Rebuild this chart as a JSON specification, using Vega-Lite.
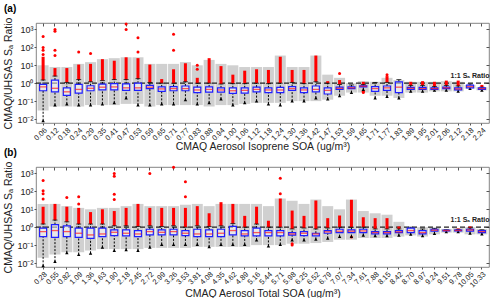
{
"$schema": "https://vega.github.io/schema/vega-lite/v6.json",
"padding": {"left": 3, "top": 3, "right": 6, "bottom": 0},
"config": {"font": "Liberation Sans", "view": {"stroke": "#666", "strokeWidth": 0.8},
  "axis": {"labelColor": "#222", "titleColor": "#222", "tickColor": "#555", "domain": false, "grid": false, "labelFontSize": 7.5, "titleFontWeight": "normal", "titleFontSize": 10.5, "tickSize": 2, "labelPadding": 1},
  "title": {"fontSize": 10, "fontWeight": "bold", "anchor": "start", "offset": 3, "color": "#000"}},
"bounds": "flush",
"spacing": 44,
"datasets": {
"A": [
{"c":"0.06","q1":0.38,"m":0.62,"q3":0.86,"wl":0.008,"wh":1.5,"rt":30,"gl":0.03,"gh":10},
{"c":"0.12","q1":0.33,"m":0.52,"q3":1.5,"wl":0.06,"wh":2.5,"rt":7,"gl":0.05,"gh":8},
{"c":"0.18","q1":0.21,"m":0.33,"q3":0.55,"wl":0.07,"wh":1.1,"rt":7,"gl":0.05,"gh":8},
{"c":"0.24","q1":0.28,"m":0.45,"q3":0.85,"wl":0.06,"wh":1.6,"rt":11,"gl":0.05,"gh":12},
{"c":"0.29","q1":0.38,"m":0.52,"q3":0.72,"wl":0.06,"wh":1.2,"rt":12,"gl":0.06,"gh":15},
{"c":"0.35","q1":0.42,"m":0.6,"q3":0.9,"wl":0.07,"wh":1.4,"rt":22,"gl":0.06,"gh":22},
{"c":"0.41","q1":0.42,"m":0.62,"q3":0.95,"wl":0.08,"wh":1.6,"rt":18,"gl":0.06,"gh":25},
{"c":"0.47","q1":0.4,"m":0.55,"q3":0.92,"wl":0.15,"wh":1.6,"rt":28,"gl":0.07,"gh":28},
{"c":"0.53","q1":0.4,"m":0.55,"q3":1.0,"wl":0.06,"wh":1.8,"rt":25,"gl":0.07,"gh":28},
{"c":"0.59","q1":0.5,"m":0.6,"q3":0.75,"wl":0.06,"wh":1.1,"rt":11,"gl":0.05,"gh":12},
{"c":"0.65","q1":0.35,"m":0.48,"q3":0.62,"wl":0.07,"wh":1.0,"rt":1.7,"gl":0.06,"gh":12},
{"c":"0.71","q1":0.38,"m":0.5,"q3":0.65,"wl":0.07,"wh":1.0,"rt":6,"gl":0.06,"gh":12},
{"c":"0.77","q1":0.38,"m":0.5,"q3":0.7,"wl":0.12,"wh":1.2,"rt":13,"gl":0.06,"gh":15},
{"c":"0.83","q1":0.3,"m":0.42,"q3":0.6,"wl":0.07,"wh":1.0,"rt":2,"gl":0.06,"gh":10},
{"c":"0.88","q1":0.32,"m":0.45,"q3":0.62,"wl":0.08,"wh":1.0,"rt":25,"gl":0.05,"gh":20},
{"c":"0.94","q1":0.32,"m":0.42,"q3":0.55,"wl":0.13,"wh":0.9,"rt":9,"gl":0.06,"gh":12},
{"c":"1.00","q1":0.27,"m":0.38,"q3":0.55,"wl":0.06,"wh":0.95,"rt":3,"gl":0.06,"gh":10},
{"c":"1.06","q1":0.28,"m":0.4,"q3":0.55,"wl":0.08,"wh":0.95,"rt":5,"gl":0.07,"gh":8},
{"c":"1.12","q1":0.33,"m":0.45,"q3":0.6,"wl":0.1,"wh":1.0,"rt":6,"gl":0.08,"gh":8},
{"c":"1.18","q1":0.3,"m":0.42,"q3":0.55,"wl":0.07,"wh":0.95,"rt":5.5,"gl":0.08,"gh":8},
{"c":"1.24","q1":0.3,"m":0.42,"q3":0.58,"wl":0.06,"wh":1.0,"rt":30,"gl":0.08,"gh":35},
{"c":"1.30","q1":0.4,"m":0.5,"q3":0.65,"wl":0.1,"wh":1.1,"rt":5.5,"gl":0.1,"gh":8},
{"c":"1.36","q1":0.3,"m":0.42,"q3":0.55,"wl":0.1,"wh":0.95,"rt":5.5,"gl":0.1,"gh":8},
{"c":"1.42","q1":0.33,"m":0.45,"q3":0.7,"wl":0.15,"wh":1.2,"rt":35,"gl":0.1,"gh":35},
{"c":"1.47","q1":0.25,"m":0.4,"q3":0.55,"wl":0.13,"wh":1.0,"rt":1.3,"gl":0.12,"gh":3},
{"c":"1.53","q1":0.45,"m":0.52,"q3":0.6,"wl":0.2,"wh":0.85,"rt":1.5,"gl":0.2,"gh":2},
{"c":"1.59","q1":0.5,"m":0.55,"q3":0.62,"wl":0.3,"wh":0.8,"rt":null,"gl":0.3,"gh":1},
{"c":"1.65","q1":0.62,"m":0.68,"q3":0.72,"wl":0.45,"wh":0.85,"rt":1.2,"gl":0.3,"gh":1.3},
{"c":"1.71","q1":0.35,"m":0.5,"q3":0.65,"wl":0.15,"wh":1.1,"rt":null,"gl":0.2,"gh":1.2},
{"c":"1.77","q1":0.4,"m":0.55,"q3":0.7,"wl":0.18,"wh":1.1,"rt":2.5,"gl":0.2,"gh":2},
{"c":"1.83","q1":0.3,"m":0.6,"q3":1.2,"wl":0.15,"wh":1.6,"rt":null,"gl":0.15,"gh":1.5},
{"c":"1.89","q1":0.45,"m":0.52,"q3":0.58,"wl":0.35,"wh":0.75,"rt":1.2,"gl":0.3,"gh":1.2},
{"c":"1.95","q1":0.45,"m":0.5,"q3":0.58,"wl":0.35,"wh":0.75,"rt":1.3,"gl":0.3,"gh":1.2},
{"c":"2.01","q1":0.45,"m":0.5,"q3":0.55,"wl":0.4,"wh":0.65,"rt":1.2,"gl":0.35,"gh":1.2},
{"c":"2.06","q1":0.5,"m":0.55,"q3":0.6,"wl":0.4,"wh":0.75,"rt":1.4,"gl":0.35,"gh":1.3},
{"c":"2.12","q1":0.42,"m":0.48,"q3":0.55,"wl":0.35,"wh":0.7,"rt":1.4,"gl":0.35,"gh":1.2},
{"c":"2.18","q1":0.55,"m":0.65,"q3":0.78,"wl":0.5,"wh":0.9,"rt":null,"gl":0.5,"gh":0.8},
{"c":"2.24","q1":0.45,"m":0.5,"q3":0.55,"wl":0.4,"wh":0.6,"rt":0.8,"gl":0.4,"gh":0.6}
],
"AO": [
{"c":"0.06","v":400},{"c":"0.06","v":100},{"c":"0.06","v":70},{"c":"0.06","v":40},
{"c":"0.12","v":1000},{"c":"0.12","v":800},{"c":"0.12","v":70},{"c":"0.12","v":35},
{"c":"0.24","v":55},{"c":"0.29","v":45},{"c":"0.47","v":2000},{"c":"0.47","v":1000},
{"c":"0.53","v":350},{"c":"0.53","v":55},{"c":"0.71","v":550},{"c":"0.71","v":70},
{"c":"0.83","v":10},{"c":"0.83","v":6},{"c":"1.53","v":3.5},{"c":"1.65","v":0.35},{"c":"1.65","v":0.3},{"c":"1.77","v":3}
],
"B": [
{"c":"0.28","q1":0.3,"m":0.57,"q3":0.88,"wl":0.007,"wh":1.5,"rt":14,"gl":0.02,"gh":20},
{"c":"0.55","q1":0.27,"m":0.65,"q3":1.4,"wl":0.012,"wh":2.5,"rt":20,"gl":0.03,"gh":20},
{"c":"0.82","q1":0.3,"m":0.57,"q3":1.19,"wl":0.038,"wh":2.0,"rt":14,"gl":0.04,"gh":15},
{"c":"1.09","q1":0.27,"m":0.46,"q3":0.88,"wl":0.03,"wh":1.5,"rt":12,"gl":0.04,"gh":12},
{"c":"1.36","q1":0.24,"m":0.37,"q3":0.88,"wl":0.035,"wh":1.5,"rt":7,"gl":0.05,"gh":10},
{"c":"1.63","q1":0.3,"m":0.42,"q3":0.88,"wl":0.075,"wh":1.5,"rt":10,"gl":0.06,"gh":12},
{"c":"1.90","q1":0.34,"m":0.52,"q3":0.71,"wl":0.05,"wh":1.2,"rt":8,"gl":0.06,"gh":12},
{"c":"2.18","q1":0.33,"m":0.46,"q3":0.71,"wl":0.055,"wh":1.2,"rt":12,"gl":0.06,"gh":15},
{"c":"2.45","q1":0.3,"m":0.42,"q3":0.65,"wl":0.05,"wh":1.1,"rt":20,"gl":0.06,"gh":20},
{"c":"2.72","q1":0.37,"m":0.57,"q3":0.77,"wl":0.075,"wh":1.2,"rt":12,"gl":0.07,"gh":15},
{"c":"2.99","q1":0.37,"m":0.52,"q3":0.71,"wl":0.11,"wh":1.1,"rt":12,"gl":0.07,"gh":15},
{"c":"3.26","q1":0.37,"m":0.57,"q3":0.77,"wl":0.11,"wh":1.2,"rt":12,"gl":0.07,"gh":15},
{"c":"3.53","q1":0.34,"m":0.46,"q3":0.65,"wl":0.11,"wh":1.0,"rt":12,"gl":0.07,"gh":18},
{"c":"3.81","q1":0.3,"m":0.42,"q3":0.77,"wl":0.11,"wh":1.2,"rt":15,"gl":0.08,"gh":20},
{"c":"4.08","q1":0.3,"m":0.42,"q3":0.71,"wl":0.08,"wh":1.1,"rt":6,"gl":0.08,"gh":15},
{"c":"4.35","q1":0.3,"m":0.46,"q3":0.77,"wl":0.11,"wh":1.2,"rt":25,"gl":0.08,"gh":20},
{"c":"4.62","q1":0.37,"m":0.65,"q3":1.1,"wl":0.11,"wh":1.6,"rt":20,"gl":0.08,"gh":20},
{"c":"4.89","q1":0.33,"m":0.42,"q3":0.65,"wl":0.11,"wh":1.0,"rt":4.3,"gl":0.08,"gh":20},
{"c":"5.16","q1":0.33,"m":0.5,"q3":0.88,"wl":0.19,"wh":1.5,"rt":14,"gl":0.1,"gh":20},
{"c":"5.44","q1":0.33,"m":0.5,"q3":0.65,"wl":0.09,"wh":1.0,"rt":2.3,"gl":0.1,"gh":15},
{"c":"5.71","q1":0.33,"m":0.5,"q3":0.65,"wl":0.11,"wh":1.0,"rt":40,"gl":0.1,"gh":40},
{"c":"5.98","q1":0.36,"m":0.42,"q3":0.5,"wl":0.19,"wh":0.8,"rt":8.5,"gl":0.12,"gh":30},
{"c":"6.25","q1":0.34,"m":0.46,"q3":0.57,"wl":0.19,"wh":0.9,"rt":4.3,"gl":0.12,"gh":20},
{"c":"6.52","q1":0.33,"m":0.42,"q3":0.46,"wl":0.21,"wh":0.8,"rt":31,"gl":0.13,"gh":35},
{"c":"6.79","q1":0.46,"m":0.55,"q3":0.65,"wl":0.24,"wh":0.9,"rt":3.2,"gl":0.15,"gh":15},
{"c":"7.07","q1":0.5,"m":0.6,"q3":0.77,"wl":0.3,"wh":1.0,"rt":4.5,"gl":0.2,"gh":10},
{"c":"7.34","q1":0.5,"m":0.6,"q3":0.71,"wl":0.3,"wh":1.0,"rt":34,"gl":0.2,"gh":35},
{"c":"7.61","q1":0.5,"m":0.62,"q3":0.77,"wl":0.35,"wh":1.0,"rt":3.6,"gl":0.25,"gh":8},
{"c":"7.88","q1":0.42,"m":0.5,"q3":0.57,"wl":0.33,"wh":0.8,"rt":3.2,"gl":0.25,"gh":6},
{"c":"8.15","q1":0.42,"m":0.5,"q3":0.57,"wl":0.33,"wh":0.8,"rt":3.2,"gl":0.25,"gh":5},
{"c":"8.42","q1":0.5,"m":0.55,"q3":0.65,"wl":0.35,"wh":0.8,"rt":1.1,"gl":0.3,"gh":2},
{"c":"8.70","q1":0.5,"m":0.65,"q3":0.88,"wl":0.4,"wh":1.0,"rt":null,"gl":0.35,"gh":1},
{"c":"8.97","q1":0.42,"m":0.5,"q3":0.65,"wl":0.33,"wh":0.8,"rt":null,"gl":0.3,"gh":1},
{"c":"9.24","q1":0.6,"m":0.68,"q3":0.77,"wl":0.45,"wh":0.85,"rt":null,"gl":0.4,"gh":1},
{"c":"9.51","q1":0.62,"m":0.65,"q3":0.68,"wl":0.55,"wh":0.72,"rt":null,"gl":0.5,"gh":0.8},
{"c":"9.78","q1":0.62,"m":0.66,"q3":0.7,"wl":0.55,"wh":0.75,"rt":0.85,"gl":0.5,"gh":0.9},
{"c":"10.05","q1":0.6,"m":0.7,"q3":0.77,"wl":0.46,"wh":0.9,"rt":1.1,"gl":0.4,"gh":1.0},
{"c":"10.33","q1":0.5,"m":0.57,"q3":0.65,"wl":0.42,"wh":0.72,"rt":null,"gl":0.4,"gh":0.8}
],
"BO": [
{"c":"0.28","v":400},{"c":"0.28","v":110},{"c":"0.28","v":75},{"c":"0.28","v":37},
{"c":"0.82","v":45},{"c":"1.09","v":50},{"c":"1.09","v":20},
{"c":"1.90","v":1000},{"c":"1.90","v":700},{"c":"1.90","v":70},{"c":"1.90","v":35},
{"c":"2.72","v":1000},{"c":"3.26","v":2200},{"c":"3.53","v":350},{"c":"3.53","v":50},
{"c":"5.71","v":550},{"c":"5.71","v":75},{"c":"5.98","v":0.1},{"c":"5.98","v":0.12},{"c":"7.34","v":0.28}
]
},
"vconcat": [
{
"title": {"text": "(a)"},
"width": 453, "height": 100,
"data": {"name": "A"},
"resolve": {"axis": {"x": "independent", "y": "independent"}},
"layer": [
{"mark": {"type": "bar", "color": "#d0d0d0", "size": 11},
 "encoding": {
  "x": {"field": "c", "type": "ordinal", "scale": {"domain": ["0.06","0.12","0.18","0.24","0.29","0.35","0.41","0.47","0.53","0.59","0.65","0.71","0.77","0.83","0.88","0.94","1.00","1.06","1.12","1.18","1.24","1.30","1.36","1.42","1.47","1.53","1.59","1.65","1.71","1.77","1.83","1.89","1.95","2.01","2.06","2.12","2.18","2.24"], "paddingInner": 0, "paddingOuter": 0.1},
   "axis": {"labelAngle": -45, "title": "CMAQ Aerosol Isoprene SOA (ug/m³)", "titlePadding": 0}},
  "y": {"field": "gl", "type": "quantitative", "scale": {"type": "log", "domain": [0.006, 2300], "nice": false},
   "axis": {"values": [0.01, 0.1, 1, 10, 100, 1000], "labelFontSize": 9, "labelExpr": "['10⁻²','10⁻¹','10⁰','10¹','10²','10³'][round(log(datum.value)/LN10)+2]", "title": "CMAQ/UHSAS Sₐ Ratio", "titlePadding": 3}},
  "y2": {"field": "gh"}}},
{"data": {"values": [{}]}, "mark": {"type": "rule", "strokeDash": [5, 3], "color": "#222", "strokeWidth": 1.2},
 "encoding": {"y": {"datum": 1, "axis": {"orient": "right", "values": [0.01, 0.1, 1, 10, 100, 1000], "labels": false, "title": null, "tickSize": -3, "minExtent": 0, "maxExtent": 0}}}},
{"transform": [{"filter": "datum.rt != null"}], "mark": {"type": "bar", "color": "#ff0000", "size": 3},
 "encoding": {"x": {"field": "c", "type": "ordinal", "axis": {"orient": "top", "labels": false, "title": null, "tickSize": -3, "minExtent": 0, "maxExtent": 0}}, "y": {"field": "wh", "type": "quantitative", "axis": null}, "y2": {"field": "rt"}}},
{"data": {"name": "AO"}, "mark": {"type": "point", "filled": true, "color": "#ff0000", "size": 9, "opacity": 1},
 "encoding": {"x": {"field": "c", "type": "ordinal", "axis": null}, "y": {"field": "v", "type": "quantitative", "axis": null}}},
{"mark": {"type": "rule", "strokeDash": [2, 1.5], "color": "#000", "strokeWidth": 1},
 "encoding": {"x": {"field": "c", "type": "ordinal", "axis": null}, "y": {"field": "wl", "type": "quantitative", "axis": null}, "y2": {"field": "q1"}}},
{"mark": {"type": "rule", "strokeDash": [2, 1.5], "color": "#000", "strokeWidth": 1},
 "encoding": {"x": {"field": "c", "type": "ordinal", "axis": null}, "y": {"field": "q3", "type": "quantitative", "axis": null}, "y2": {"field": "wh"}}},
{"mark": {"type": "tick", "color": "#000", "size": 5, "thickness": 1},
 "encoding": {"x": {"field": "c", "type": "ordinal", "axis": null}, "y": {"field": "wh", "type": "quantitative", "axis": null}}},
{"mark": {"type": "point", "shape": "triangle-up", "filled": true, "color": "#000", "size": 12, "opacity": 1},
 "encoding": {"x": {"field": "c", "type": "ordinal", "axis": null}, "y": {"field": "wl", "type": "quantitative", "axis": null}}},
{"mark": {"type": "bar", "size": 7, "fill": "#ffffff", "fillOpacity": 0.5, "stroke": "#1f1fff", "strokeWidth": 1.2},
 "encoding": {"x": {"field": "c", "type": "ordinal", "axis": null}, "y": {"field": "q1", "type": "quantitative", "axis": null}, "y2": {"field": "q3"}}},
{"mark": {"type": "tick", "color": "#ff1a1a", "size": 7, "thickness": 1.3},
 "encoding": {"x": {"field": "c", "type": "ordinal", "axis": null}, "y": {"field": "m", "type": "quantitative", "axis": null}}},
{"data": {"values": [{}]}, "mark": {"type": "text", "text": "1:1 Sₐ Ratio", "fontSize": 7, "fontWeight": "bold", "color": "#222"},
 "encoding": {"x": {"datum": "2.18", "axis": null}, "y": {"datum": 2.6, "axis": null}}}
]
},
{
"title": {"text": "(b)"},
"width": 453, "height": 100,
"data": {"name": "B"},
"resolve": {"axis": {"x": "independent", "y": "independent"}},
"layer": [
{"mark": {"type": "bar", "color": "#d0d0d0", "size": 11},
 "encoding": {
  "x": {"field": "c", "type": "ordinal", "scale": {"domain": ["0.28","0.55","0.82","1.09","1.36","1.63","1.90","2.18","2.45","2.72","2.99","3.26","3.53","3.81","4.08","4.35","4.62","4.89","5.16","5.44","5.71","5.98","6.25","6.52","6.79","7.07","7.34","7.61","7.88","8.15","8.42","8.70","8.97","9.24","9.51","9.78","10.05","10.33"], "paddingInner": 0, "paddingOuter": 0.1},
   "axis": {"labelAngle": -45, "title": "CMAQ Aerosol Total SOA (ug/m³)", "titlePadding": 0}},
  "y": {"field": "gl", "type": "quantitative", "scale": {"type": "log", "domain": [0.006, 2300], "nice": false},
   "axis": {"values": [0.01, 0.1, 1, 10, 100, 1000], "labelFontSize": 9, "labelExpr": "['10⁻²','10⁻¹','10⁰','10¹','10²','10³'][round(log(datum.value)/LN10)+2]", "title": "CMAQ/UHSAS Sₐ Ratio", "titlePadding": 3}},
  "y2": {"field": "gh"}}},
{"data": {"values": [{}]}, "mark": {"type": "rule", "strokeDash": [5, 3], "color": "#222", "strokeWidth": 1.2},
 "encoding": {"y": {"datum": 1, "axis": {"orient": "right", "values": [0.01, 0.1, 1, 10, 100, 1000], "labels": false, "title": null, "tickSize": -3, "minExtent": 0, "maxExtent": 0}}}},
{"transform": [{"filter": "datum.rt != null"}], "mark": {"type": "bar", "color": "#ff0000", "size": 3},
 "encoding": {"x": {"field": "c", "type": "ordinal", "axis": {"orient": "top", "labels": false, "title": null, "tickSize": -3, "minExtent": 0, "maxExtent": 0}}, "y": {"field": "wh", "type": "quantitative", "axis": null}, "y2": {"field": "rt"}}},
{"data": {"name": "BO"}, "mark": {"type": "point", "filled": true, "color": "#ff0000", "size": 9, "opacity": 1},
 "encoding": {"x": {"field": "c", "type": "ordinal", "axis": null}, "y": {"field": "v", "type": "quantitative", "axis": null}}},
{"mark": {"type": "rule", "strokeDash": [2, 1.5], "color": "#000", "strokeWidth": 1},
 "encoding": {"x": {"field": "c", "type": "ordinal", "axis": null}, "y": {"field": "wl", "type": "quantitative", "axis": null}, "y2": {"field": "q1"}}},
{"mark": {"type": "rule", "strokeDash": [2, 1.5], "color": "#000", "strokeWidth": 1},
 "encoding": {"x": {"field": "c", "type": "ordinal", "axis": null}, "y": {"field": "q3", "type": "quantitative", "axis": null}, "y2": {"field": "wh"}}},
{"mark": {"type": "tick", "color": "#000", "size": 5, "thickness": 1},
 "encoding": {"x": {"field": "c", "type": "ordinal", "axis": null}, "y": {"field": "wh", "type": "quantitative", "axis": null}}},
{"mark": {"type": "point", "shape": "triangle-up", "filled": true, "color": "#000", "size": 12, "opacity": 1},
 "encoding": {"x": {"field": "c", "type": "ordinal", "axis": null}, "y": {"field": "wl", "type": "quantitative", "axis": null}}},
{"mark": {"type": "bar", "size": 7, "fill": "#ffffff", "fillOpacity": 0.5, "stroke": "#1f1fff", "strokeWidth": 1.2},
 "encoding": {"x": {"field": "c", "type": "ordinal", "axis": null}, "y": {"field": "q1", "type": "quantitative", "axis": null}, "y2": {"field": "q3"}}},
{"mark": {"type": "tick", "color": "#ff1a1a", "size": 7, "thickness": 1.3},
 "encoding": {"x": {"field": "c", "type": "ordinal", "axis": null}, "y": {"field": "m", "type": "quantitative", "axis": null}}},
{"data": {"values": [{}]}, "mark": {"type": "text", "text": "1:1 Sₐ Ratio", "fontSize": 7, "fontWeight": "bold", "color": "#222"},
 "encoding": {"x": {"datum": "10.05", "axis": null}, "y": {"datum": 2.6, "axis": null}}}
]
}
]
}
